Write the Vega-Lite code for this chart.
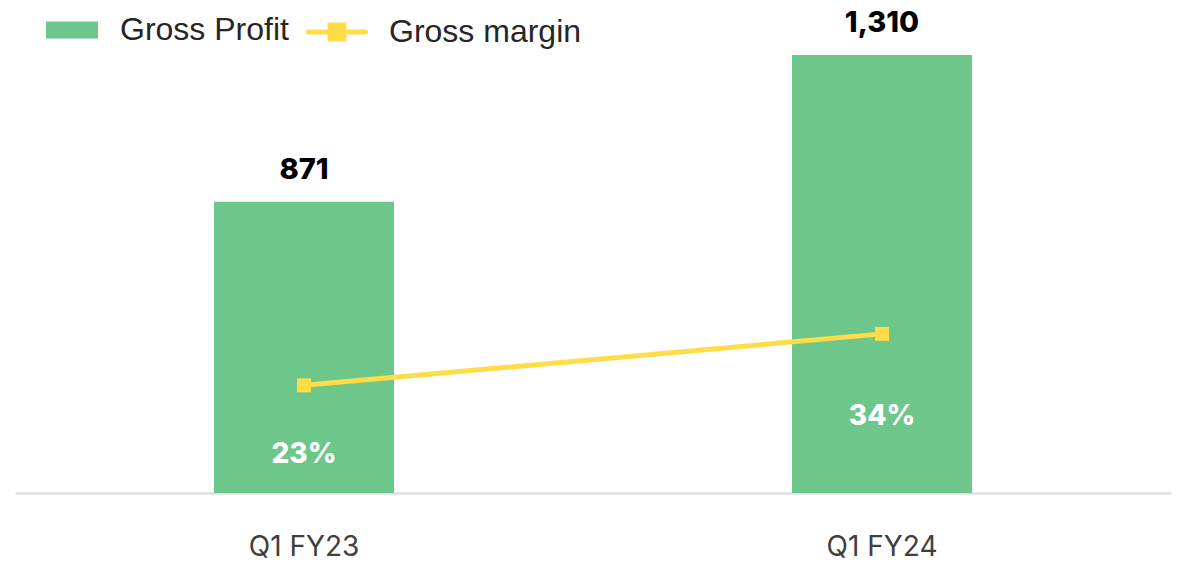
{
  "$schema": "https://vega.github.io/schema/vega-lite/v6.json",
  "width": 1156,
  "height": 468,
  "autosize": {"type": "none"},
  "padding": {"left": 15, "top": 25, "right": 7, "bottom": 70},
  "background": "white",
  "config": {"view": {"stroke": null}},
  "data": {
    "values": [
      {"quarter": "Q1 FY23", "gross_profit": 871, "gross_margin": 0.23},
      {"quarter": "Q1 FY24", "gross_profit": 1310, "gross_margin": 0.34}
    ]
  },
  "encoding": {
    "x": {
      "field": "quarter",
      "type": "nominal",
      "sort": null,
      "scale": {"paddingInner": 0, "paddingOuter": 0},
      "axis": {
        "title": null,
        "labelAngle": 0,
        "ticks": false,
        "grid": false,
        "domainColor": "#D9D9D9",
        "domainWidth": 2,
        "labelFont": "Inter",
        "labelFontSize": 28,
        "labelColor": "#404040",
        "labelPadding": 40
      }
    }
  },
  "layer": [
    {
      "mark": {"type": "bar", "width": 180},
      "encoding": {
        "y": {"field": "gross_profit", "type": "quantitative", "scale": {"domain": [0, 1400]}, "axis": null},
        "fill": {
          "datum": "Gross Profit",
          "type": "nominal",
          "scale": {"domain": ["Gross Profit"], "range": ["#6DC68A"]},
          "legend": {
            "orient": "none",
            "legendX": 31,
            "legendY": -21,
            "title": null,
            "padding": 0,
            "symbolType": "M-1,-0.327L1,-0.327L1,0.327L-1,0.327Z",
            "symbolSize": 2704,
            "symbolStrokeWidth": 0,
            "labelFont": "Liberation Sans",
            "labelFontSize": 32,
            "labelColor": "#262626",
            "labelOffset": 22,
            "labelLimit": 0
          }
        }
      }
    },
    {
      "mark": {"type": "text", "font": "Inter", "fontWeight": 800, "fontSize": 29, "color": "#000000", "baseline": "alphabetic", "dy": -23},
      "encoding": {
        "y": {"field": "gross_profit", "type": "quantitative", "scale": {"domain": [0, 1400]}, "axis": null},
        "text": {"field": "gross_profit", "type": "quantitative", "format": ","}
      }
    },
    {
      "mark": {"type": "line", "strokeWidth": 5},
      "encoding": {
        "y": {"field": "gross_margin", "type": "quantitative", "scale": {"domain": [0, 1]}, "axis": null},
        "stroke": {
          "datum": "Gross margin",
          "type": "nominal",
          "scale": {"domain": ["Gross margin"], "range": ["#FFDC48"]},
          "legend": {
            "orient": "none",
            "legendX": 291,
            "legendY": -24,
            "title": null,
            "padding": 0,
            "symbolType": "M-1,0L1,0M-0.245,-0.245L0.245,-0.245L0.245,0.245L-0.245,0.245Z",
            "symbolSize": 3249,
            "symbolStrokeWidth": 5,
            "symbolFillColor": "#FFDC48",
            "labelFont": "Liberation Sans",
            "labelFontSize": 32,
            "labelColor": "#262626",
            "labelOffset": 21,
            "labelLimit": 0,
            "encode": {"symbols": {"update": {"fill": {"value": "#FFDC48"}, "strokeCap": {"value": "round"}}}}
          }
        }
      }
    },
    {
      "mark": {"type": "point", "shape": "square", "filled": true, "size": 196, "color": "#FFDC48", "opacity": 1},
      "encoding": {
        "y": {"field": "gross_margin", "type": "quantitative", "scale": {"domain": [0, 1]}, "axis": null}
      }
    },
    {
      "transform": [{"filter": "datum.quarter == 'Q1 FY23'"}],
      "mark": {"type": "text", "font": "Inter", "fontWeight": 800, "fontSize": 28, "color": "#FFFFFF", "baseline": "alphabetic", "dy": 78},
      "encoding": {
        "y": {"field": "gross_margin", "type": "quantitative", "scale": {"domain": [0, 1]}, "axis": null},
        "text": {"field": "gross_margin", "type": "quantitative", "format": ".0%"}
      }
    },
    {
      "transform": [{"filter": "datum.quarter == 'Q1 FY24'"}],
      "mark": {"type": "text", "font": "Inter", "fontWeight": 800, "fontSize": 28, "color": "#FFFFFF", "baseline": "alphabetic", "dy": 91},
      "encoding": {
        "y": {"field": "gross_margin", "type": "quantitative", "scale": {"domain": [0, 1]}, "axis": null},
        "text": {"field": "gross_margin", "type": "quantitative", "format": ".0%"}
      }
    }
  ],
  "resolve": {"scale": {"y": "independent"}}
}
